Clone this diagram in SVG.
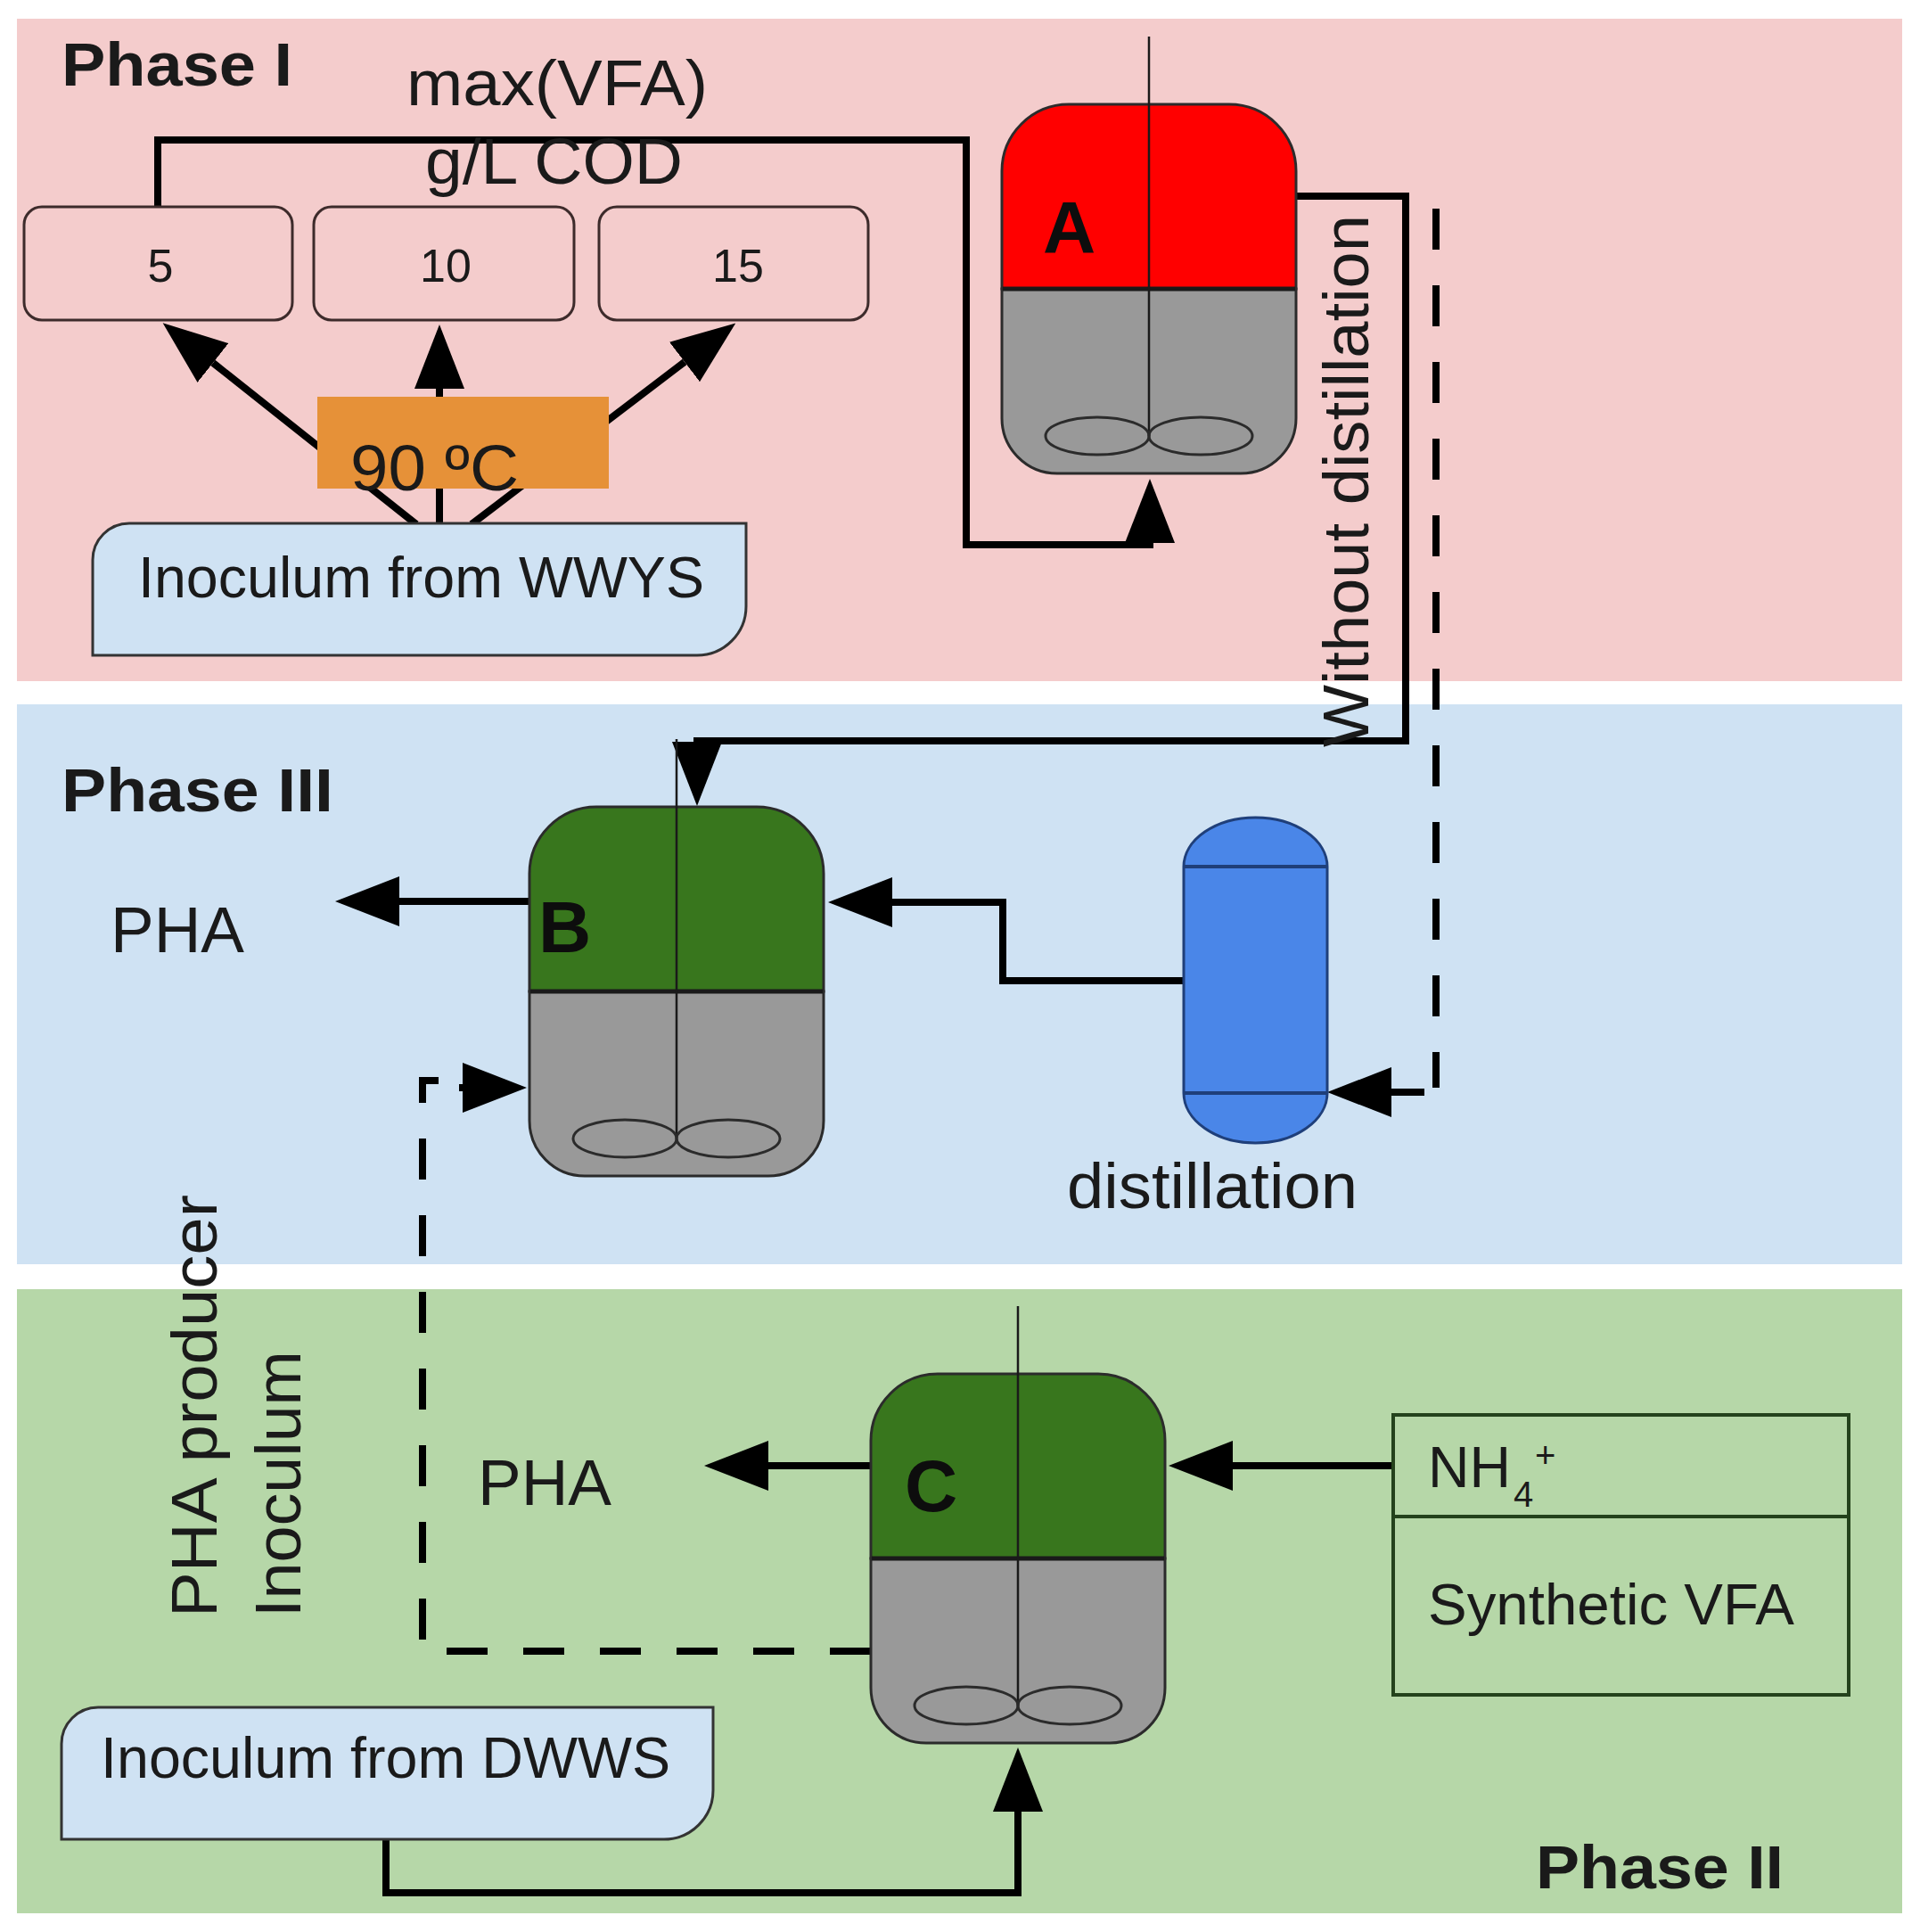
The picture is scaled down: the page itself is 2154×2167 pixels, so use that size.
<svg xmlns="http://www.w3.org/2000/svg" xmlns:xlink="http://www.w3.org/1999/xlink" width="2154" height="2167" viewBox="0 0 2154 2167">
<style>
text{font-family:"Liberation Sans",Arial,sans-serif;fill:#1a1a1a}
.ph{font-weight:bold;font-size:68px}
.lbl{font-size:72px}
.bx{font-size:64px}
.num{font-size:52px;text-anchor:middle}
.let{font-weight:bold;font-size:82px;fill:#0d0d0d}
.conn{fill:none;stroke:#000;stroke-width:8;stroke-linejoin:miter}
.dash{fill:none;stroke:#000;stroke-width:8;stroke-dasharray:46 40}
.rtop{stroke:#2b2b2b;stroke-width:3}
.rbot{fill:#999999;stroke:#2b2b2b;stroke-width:3}
.rdiv{stroke:#1a1a1a;stroke-width:5}
.shaft{stroke:#1a1a1a;stroke-width:2.5}
.imp{fill:none;stroke:#2b2b2b;stroke-width:3}
.numbox{fill:#f4cccc;stroke:#3d2b2b;stroke-width:3}
.inoc{fill:#cfe2f3;stroke:#333;stroke-width:3}
</style>
<defs>
<marker id="ah" markerUnits="userSpaceOnUse" markerWidth="72" markerHeight="56" viewBox="0 0 72 56" refX="0" refY="28" orient="auto">
<path d="M0,0 L72,28 L0,56 Z" fill="#000"/>
</marker>
<g id="reactor">
<path class="rtop" d="M0,75 A75,75 0 0 1 75,0 H255 A75,75 0 0 1 330,75 V207 H0 Z" fill="currentColor"/>
<path class="rbot" d="M0,207 H330 V352 A62,62 0 0 1 268,414 H62 A62,62 0 0 1 0,352 Z"/>
<line class="rdiv" x1="1" y1="207" x2="329" y2="207"/>
<line class="shaft" x1="165" y1="-76" x2="165" y2="372"/>
<ellipse class="imp" cx="107" cy="372" rx="58" ry="21"/>
<ellipse class="imp" cx="223" cy="372" rx="58" ry="21"/>
</g>
</defs>

<g id="panels">
<rect id="phase1-panel" x="19" y="21" width="2115" height="743" fill="#f4cccc"/>
<rect id="phase3-panel" x="19" y="790" width="2115" height="628" fill="#cfe2f3"/>
<rect id="phase2-panel" x="19" y="1446" width="2115" height="700" fill="#b6d7a8"/>
</g>

<g id="connectors">
<path class="conn" d="M177,232 V157 H1084 V611 H1290 V609" marker-end="url(#ah)"/>
<path class="conn" d="M467,588 L239,407" marker-end="url(#ah)"/>
<path class="conn" d="M493,588 V436" marker-end="url(#ah)"/>
<path class="conn" d="M529,588 L768,406" marker-end="url(#ah)"/>
<path class="conn" d="M1453,220 H1577 V831 H782 V832" marker-end="url(#ah)"/>
<path class="dash" d="M1611,234 V1220"/>
<path class="conn" d="M1598,1225 H1561" marker-end="url(#ah)"/>
<path class="conn" d="M1328,1100 H1125 V1012 H1001" marker-end="url(#ah)"/>
<path class="conn" d="M594,1011 H448" marker-end="url(#ah)"/>
<path class="dash" d="M977,1852 H474 V1212 H492"/>
<path class="conn" d="M515,1220 H519" marker-end="url(#ah)"/>
<path class="conn" d="M977,1644 H862" marker-end="url(#ah)"/>
<path class="conn" d="M1563,1644 H1383" marker-end="url(#ah)"/>
<path class="conn" d="M433,2063 V2123 H1142 V2032" marker-end="url(#ah)"/>
</g>

<g id="phase-labels">
<text class="ph" x="69" y="96" textLength="259" lengthAdjust="spacingAndGlyphs">Phase I</text>
<text class="ph" x="69" y="910" textLength="305" lengthAdjust="spacingAndGlyphs">Phase III</text>
<text class="ph" x="1723" y="2118" textLength="278" lengthAdjust="spacingAndGlyphs">Phase II</text>
</g>

<g id="vfa-label">
<text class="lbl" x="456" y="118" textLength="338" lengthAdjust="spacingAndGlyphs">max(VFA)</text>
<text class="lbl" x="477" y="206" textLength="289" lengthAdjust="spacingAndGlyphs">g/L COD</text>
</g>

<g id="box-5">
<rect class="numbox" x="27" y="232" width="301" height="127" rx="20"/>
<text class="num" x="180" y="316">5</text>
</g>
<g id="box-10">
<rect class="numbox" x="352" y="232" width="292" height="127" rx="20"/>
<text class="num" x="500" y="316">10</text>
</g>
<g id="box-15">
<rect class="numbox" x="672" y="232" width="302" height="127" rx="20"/>
<text class="num" x="828" y="316">15</text>
</g>

<g id="heat-90C">
<rect x="356" y="445" width="327" height="103" fill="#e69138"/>
<text class="lbl" x="393" y="550" textLength="189" lengthAdjust="spacingAndGlyphs">90 ºC</text>
</g>

<g id="inoculum-wwys">
<path class="inoc" d="M104,628 A41,41 0 0 1 145,587 H837 V680 A55,55 0 0 1 782,735 H104 Z"/>
<text class="bx" x="155" y="670" textLength="635" lengthAdjust="spacingAndGlyphs">Inoculum from WWYS</text>
</g>

<g id="reactor-A">
<use xlink:href="#reactor" href="#reactor" x="1124" y="117" color="#ff0000"/>
<text class="let" x="1170" y="283">A</text>
</g>

<g id="without-distillation-label">
<text class="lbl" transform="translate(1535,838) rotate(-90)" textLength="597" lengthAdjust="spacingAndGlyphs">Without distillation</text>
</g>

<g id="reactor-B">
<use xlink:href="#reactor" href="#reactor" x="594" y="905" color="#38761d"/>
<text class="let" x="604" y="1068">B</text>
</g>

<g id="pha-B">
<text class="lbl" x="124" y="1068" textLength="150" lengthAdjust="spacingAndGlyphs">PHA</text>
</g>

<g id="distillation">
<path d="M1328,972 A80.5,55 0 0 1 1489,972 V1226 A80.5,56 0 0 1 1328,1226 Z" fill="#4a86e8" stroke="#1f3f7a" stroke-width="3"/>
<line x1="1328" y1="972" x2="1489" y2="972" stroke="#1f3f7a" stroke-width="4"/>
<line x1="1328" y1="1226" x2="1489" y2="1226" stroke="#1f3f7a" stroke-width="4"/>
<text class="lbl" x="1197" y="1355" textLength="326" lengthAdjust="spacingAndGlyphs">distillation</text>
</g>

<g id="pha-producer-label">
<text class="lbl" transform="translate(243,1814) rotate(-90)" textLength="474" lengthAdjust="spacingAndGlyphs">PHA producer</text>
<text class="lbl" transform="translate(337,1814) rotate(-90)" textLength="299" lengthAdjust="spacingAndGlyphs">Inoculum</text>
</g>

<g id="reactor-C">
<use xlink:href="#reactor" href="#reactor" x="977" y="1541" color="#38761d"/>
<text class="let" x="1015" y="1695">C</text>
</g>

<g id="pha-C">
<text class="lbl" x="536" y="1688" textLength="150" lengthAdjust="spacingAndGlyphs">PHA</text>
</g>

<g id="feed-box">
<rect x="1563" y="1587" width="511" height="314" fill="none" stroke="#24421c" stroke-width="4"/>
<line x1="1563" y1="1701" x2="2074" y2="1701" stroke="#24421c" stroke-width="4"/>
<text class="bx" x="1602" y="1668" textLength="93" lengthAdjust="spacingAndGlyphs">NH</text>
<text x="1698" y="1690" font-size="40">4</text>
<text x="1722" y="1646" font-size="40">+</text>
<text class="bx" x="1602" y="1822" textLength="411" lengthAdjust="spacingAndGlyphs">Synthetic VFA</text>
</g>

<g id="inoculum-dwws">
<path class="inoc" d="M69,1956 A41,41 0 0 1 110,1915 H800 V2008 A55,55 0 0 1 745,2063 H69 Z"/>
<text class="bx" x="113" y="1994" textLength="639" lengthAdjust="spacingAndGlyphs">Inoculum from DWWS</text>
</g>
</svg>
